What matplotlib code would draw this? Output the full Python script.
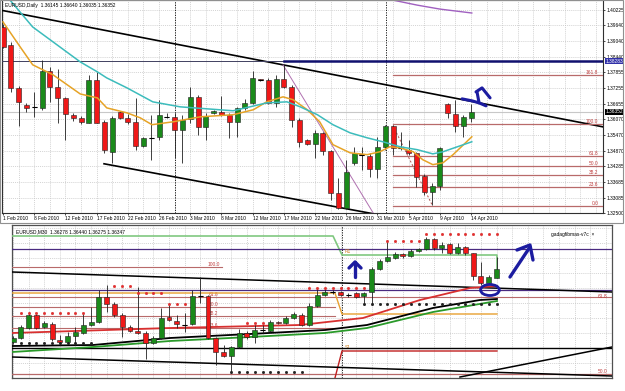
import matplotlib
matplotlib.use("Agg")
import matplotlib.pyplot as plt
import matplotlib.transforms as mtransforms
from matplotlib.patches import Ellipse, Rectangle
import numpy as np

plt.rcParams['font.family'] = ['Liberation Sans', 'DejaVu Sans']

# ---- daily chart (top) ----
top_open = [1.3958, 1.3890, 1.3726, 1.3662, 1.3655, 1.3650, 1.3791, 1.3730, 1.3688, 1.3624,
            1.3612, 1.3593, 1.3757, 1.3597, 1.3483, 1.3635, 1.3612, 1.3597, 1.3506, 1.3537,
            1.3540, 1.3617, 1.3616, 1.3567, 1.3608, 1.3692, 1.3578, 1.3631, 1.3635, 1.3624,
            1.3597, 1.3650, 1.3669, 1.3758, 1.3757, 1.3669, 1.3760, 1.3730, 1.3605, 1.3529,
            1.3513, 1.3555, 1.3487, 1.3327, 1.3270, 1.3441, 1.3473, 1.3468, 1.3418, 1.3502,
            1.3582, 1.3499, 1.3491, 1.3479, 1.3392, 1.3331, 1.3354, 1.3665, 1.3627, 1.3582,
            1.3612]
top_high = [1.3969, 1.3901, 1.3734, 1.3669, 1.3711, 1.3833, 1.3806, 1.3798, 1.3692, 1.3631,
            1.3620, 1.3776, 1.3787, 1.3605, 1.3620, 1.3639, 1.3627, 1.3688, 1.3540, 1.3624,
            1.3681, 1.3631, 1.3631, 1.3624, 1.3730, 1.3700, 1.3631, 1.3643, 1.3696, 1.3631,
            1.3654, 1.3684, 1.3791, 1.3760, 1.3764, 1.3776, 1.3814, 1.3738, 1.3612, 1.3532,
            1.3567, 1.3559, 1.3491, 1.3384, 1.3453, 1.3502, 1.3502, 1.3479, 1.3540, 1.3586,
            1.3586, 1.3559, 1.3529, 1.3483, 1.3399, 1.3365, 1.3502, 1.3669, 1.3681, 1.3624,
            1.3664]
top_low = [1.3878, 1.3711, 1.3582, 1.3635, 1.3616, 1.3643, 1.3673, 1.3593, 1.3529, 1.3601,
           1.3589, 1.3593, 1.3593, 1.3479, 1.3441, 1.3608, 1.3589, 1.3491, 1.3502, 1.3453,
           1.3529, 1.3612, 1.3460, 1.3441, 1.3593, 1.3548, 1.3529, 1.3627, 1.3620, 1.3536,
           1.3540, 1.3643, 1.3665, 1.3753, 1.3665, 1.3654, 1.3726, 1.3578, 1.3502, 1.3510,
           1.3460, 1.3472, 1.3301, 1.3266, 1.3266, 1.3434, 1.3415, 1.3388, 1.3384, 1.3491,
           1.3472, 1.3491, 1.3472, 1.3350, 1.3320, 1.3282, 1.3339, 1.3612, 1.3559, 1.3540,
           1.3597]
top_close = [1.3882, 1.3726, 1.3673, 1.3650, 1.3654, 1.3791, 1.3730, 1.3688, 1.3627, 1.3612,
             1.3597, 1.3757, 1.3593, 1.3491, 1.3612, 1.3612, 1.3597, 1.3506, 1.3536, 1.3536,
             1.3624, 1.3616, 1.3567, 1.3605, 1.3692, 1.3578, 1.3620, 1.3639, 1.3624, 1.3597,
             1.3650, 1.3669, 1.3764, 1.3757, 1.3669, 1.3760, 1.3730, 1.3605, 1.3521, 1.3513,
             1.3555, 1.3487, 1.3327, 1.3270, 1.3407, 1.3479, 1.3472, 1.3418, 1.3502, 1.3582,
             1.3498, 1.3498, 1.3479, 1.3388, 1.3331, 1.3354, 1.3498, 1.3631, 1.3582, 1.3616,
             1.3635]

date_labels = ['1 Feb 2010', '8 Feb 2010', '12 Feb 2010', '17 Feb 2010', '22 Feb 2010',
               '26 Feb 2010', '3 Mar 2010', '8 Mar 2010', '12 Mar 2010', '17 Mar 2010',
               '22 Mar 2010', '26 Mar 2010', '31 Mar 2010', '5 Apr 2010', '9 Apr 2010',
               '14 Apr 2010']
price_ticks = [1.40225, 1.39640, 1.39040, 1.38440, 1.37855, 1.37255, 1.36655, 1.36070,
               1.35470, 1.34870, 1.34285, 1.33685, 1.33085, 1.32500]

orange_x = [0, 2.2, 3.8, 6.4, 9.9, 12.1, 13.3, 15.9, 17.6, 19.1, 21.8, 25.3, 29.5, 32.1, 33.8,
            35.9, 37.2, 39.0, 40.6, 42.3, 44.5, 46.7, 48.3, 49.6, 50.9, 52.6, 53.8, 55.1, 56.4,
            57.7, 60.1]
orange_y = [1.3977, 1.3882, 1.3814, 1.3776, 1.3703, 1.3688, 1.3650, 1.3631, 1.3612, 1.3586,
            1.3597, 1.3616, 1.3624, 1.3643, 1.3673, 1.3692, 1.3681, 1.3643, 1.3597, 1.3510,
            1.3479, 1.3472, 1.3483, 1.3502, 1.3498, 1.3483, 1.3453, 1.3434, 1.3441, 1.3472,
            1.3540]
cyan_x = [0.9, 3.8, 9.9, 12.1, 13.3, 15.9, 19.2, 22.7, 29.5, 33.8, 36.4, 38.1, 40.3, 42.3,
          44.5, 46.7, 48.7, 50.9, 53.1, 55.1, 56.4, 60.1]
cyan_y = [1.4060, 1.3958, 1.3825, 1.3787, 1.3764, 1.3726, 1.3673, 1.3654, 1.3639, 1.3669,
          1.3673, 1.3654, 1.3624, 1.3586, 1.3555, 1.3536, 1.3521, 1.3502, 1.3491, 1.3475,
          1.3483, 1.3521]
purple_x = [50.0, 53.1, 56.0, 60.1]
purple_y = [1.4060, 1.4041, 1.4026, 1.4011]

chan_up_x, chan_up_y = [-0.4, 76.9], [1.40225, 1.35779]
chan_lo_x, chan_lo_y = [12.95, 47.44], [1.34373, 1.32473]
diag_x, diag_y = [35.9, 47.44], [1.38135, 1.32511]
fib_diag_x, fib_diag_y = [50.0, 55.0], [1.35817, 1.32815]
resist_price = 1.38283
last_price = 1.36352
fib_prices = [1.3776, 1.3589, 1.3468, 1.3430, 1.3396, 1.3350, 1.3278]
fib_names = ['161.8', '100.0', '61.8', '50.0', '38.2', '23.6', '0.0']
top_vlines = [22.05, 49.1]
scribble_top = [([58.85, 60.13, 61.03, 61.92], [1.36843, 1.36767, 1.36691, 1.36577]),
                ([61.03, 60.77], [1.36691, 1.37109]),
                ([60.64, 61.41, 62.44], [1.37109, 1.37261, 1.36881])]

# ---- M30 chart (bottom) ----
bot_open = [1.35763, 1.35795, 1.35875, 1.35979, 1.35883, 1.35907, 1.35779, 1.35763, 1.35811, 1.35835,
            1.35899, 1.35923, 1.36123, 1.36067, 1.35979, 1.35883, 1.35851, 1.35835, 1.35755, 1.35795,
            1.35963, 1.35931, 1.35900, 1.35907, 1.36132, 1.36131, 1.35795, 1.35683, 1.35651, 1.35723,
            1.35835, 1.35803, 1.35860, 1.35851, 1.35923, 1.35915, 1.35955, 1.35979, 1.35899, 1.36051,
            1.36139, 1.36164, 1.36163, 1.36140, 1.36155, 1.36131, 1.36163, 1.36347, 1.36411, 1.36435,
            1.36467, 1.36451, 1.36491, 1.36507, 1.36587, 1.36515, 1.36547, 1.36475, 1.36523, 1.36475,
            1.36291, 1.36235, 1.36278]
bot_high = [1.35811, 1.35899, 1.36003, 1.35987, 1.35931, 1.35923, 1.35819, 1.35843, 1.35883, 1.35995,
            1.36043, 1.36179, 1.36219, 1.36083, 1.35995, 1.35899, 1.36203, 1.35851, 1.35811, 1.36035,
            1.36075, 1.35979, 1.35995, 1.36179, 1.36283, 1.36139, 1.35803, 1.35739, 1.35731, 1.35867,
            1.35851, 1.35899, 1.35899, 1.35939, 1.35931, 1.35971, 1.36003, 1.35995, 1.36075, 1.36195,
            1.36187, 1.36179, 1.36171, 1.36155, 1.36163, 1.36163, 1.36363, 1.36427, 1.36579, 1.36483,
            1.36475, 1.36507, 1.36515, 1.36603, 1.36595, 1.36563, 1.36555, 1.36555, 1.36531, 1.36475,
            1.36403, 1.36299, 1.36440]
bot_low = [1.35747, 1.35787, 1.35867, 1.35867, 1.35875, 1.35771, 1.35739, 1.35747, 1.35739, 1.35827,
           1.35891, 1.35915, 1.36003, 1.35963, 1.35803, 1.35843, 1.35827, 1.35627, 1.35747, 1.35787,
           1.35931, 1.35875, 1.35843, 1.35899, 1.36075, 1.35787, 1.35579, 1.35643, 1.35515, 1.35715,
           1.35787, 1.35755, 1.35835, 1.35843, 1.35907, 1.35907, 1.35947, 1.35891, 1.35891, 1.36043,
           1.36131, 1.36147, 1.36131, 1.36123, 1.36115, 1.36059, 1.36059, 1.36339, 1.36403, 1.36427,
           1.36435, 1.36443, 1.36483, 1.36499, 1.36499, 1.36475, 1.36467, 1.36467, 1.36459, 1.36259,
           1.36219, 1.36227, 1.36275]
bot_close = [1.35795, 1.35883, 1.35979, 1.35875, 1.35915, 1.35787, 1.35763, 1.35811, 1.35843, 1.35899,
             1.35923, 1.36123, 1.36067, 1.35979, 1.35883, 1.35851, 1.35835, 1.35755, 1.35795, 1.35955,
             1.35939, 1.35907, 1.35899, 1.36131, 1.36131, 1.35795, 1.35683, 1.35651, 1.35723, 1.35835,
             1.35803, 1.35859, 1.35859, 1.35923, 1.35915, 1.35955, 1.35987, 1.35899, 1.36051, 1.36139,
             1.36163, 1.36163, 1.36139, 1.36139, 1.36123, 1.36155, 1.36347, 1.36411, 1.36443, 1.36467,
             1.36451, 1.36491, 1.36507, 1.36587, 1.36515, 1.36539, 1.36475, 1.36523, 1.36475, 1.36291,
             1.36235, 1.36283, 1.36347]

b_red_x = [-0.13, 20.13, 36.79, 44.87, 52.18, 58.59, 62.05]
b_red_y = [1.35835, 1.35875, 1.35899, 1.35955, 1.36099, 1.36195, 1.36211]
b_black_x = [-0.13, 10.26, 20.13, 30.38, 40.0, 45.38, 53.85, 59.87, 62.05]
b_black_y = [1.35731, 1.35739, 1.35795, 1.35827, 1.35859, 1.35899, 1.36035, 1.36099, 1.36107]
b_green_x = [-0.13, 10.26, 20.13, 30.38, 40.0, 45.38, 53.85, 62.05]
b_green_y = [1.35683, 1.35723, 1.35771, 1.35803, 1.35835, 1.35875, 1.36003, 1.36091]
b_step_x = [-0.13, 41.03, 42.18, 62.05, 62.05]
b_step_y = [1.36611, 1.36611, 1.36459, 1.36459, 1.36283]
b_orange_x = [-0.13, 41.28, 42.18, 62.05]
b_orange_y = [1.36155, 1.36155, 1.35987, 1.35987]
b_s1_x = [41.28, 42.18, 62.05]
b_s1_y = [1.35475, 1.35691, 1.35691]
b_trend1_x, b_trend1_y = [-0.13, 76.8], [1.36323, 1.36163]
b_trend2_x, b_trend2_y = [-0.13, 76.8], [1.35643, 1.35491]
b_trend3_x, b_trend3_y = [57.31, 76.8], [1.35483, 1.35723]
b_purple = [1.36507, 1.36179]
b_black_h = 1.35715
b_low_h = 1.35507
b_fib_prices = [1.36363, 1.36123, 1.36043, 1.35971, 1.35875]
b_fib_names = ['100.0', '61.8', '50.0', '38.2', '23.6']
b_vline = 42.18
# dotted rows: (first bar, last bar, price, colour)
b_dots = [(1, 9, 1.35995, 'r'), (13, 15, 1.36211, 'r'), (16, 19, 1.36155, 'r'),
          (20, 22, 1.36067, 'r'), (30, 32, 1.35915, 'r'), (38, 45, 1.36195, 'r'),
          (48, 52, 1.36571, 'r'), (53, 62, 1.36627, 'r'),
          (1, 10, 1.35755, 'k'), (45, 62, 1.36067, 'k'), (28, 37, 1.35523, 'k')]
scribble_bot = [([43.85, 43.85], [1.36283, 1.36403]),
                ([43.08, 43.85, 44.62], [1.36355, 1.36403, 1.36355]),
                ([63.72, 66.28], [1.36283, 1.36523]),
                ([64.62, 66.28, 66.67], [1.36499, 1.36539, 1.36419])]

UP, DOWN, WICK = '#1a8a1a', '#f01818', '#202020'
FIB = '#b86a6a'
PEN = '#1c1ca0'
GRID = dict(color='#c4c4c4', linestyle=(0, (1.5, 1.5)), linewidth=0.5)
SMALL = 3.5


def candles(ax, o, h, l, c, doji_tol):
    o, h, l, c = map(np.asarray, (o, h, l, c))
    x = np.arange(len(o))
    ax.vlines(x, l, h, color=WICK, lw=0.6, zorder=4)
    body = np.abs(c - o)
    cols = np.where(c >= o, UP, DOWN)
    ax.bar(x, body, width=0.64, bottom=np.minimum(o, c), color=cols,
           edgecolor=WICK, linewidth=0.4, zorder=5)
    flat = body < doji_tol
    ax.hlines(c[flat], x[flat] - 0.32, x[flat] + 0.32, color='black', lw=0.8, zorder=5)


W, H = 625, 391
fig = plt.figure(figsize=(W / 100, H / 100), dpi=100)

# ---------- top panel ----------
ax1 = fig.add_axes([2 / W, 1 - 213 / H, 601 / W, 213 / H])
ax1.set_xlim(-0.13, 76.92)
ax1.set_ylim(1.3250, 1.40605)
ax1.set_yticks(price_ticks)
ax1.set_yticklabels(['%.5f' % p for p in price_ticks])
ax1.yaxis.tick_right()
ax1.set_xticks(np.arange(0, 61, 4))
ax1.set_xticklabels(date_labels, ha='left')
ax1.set_xticks(np.arange(0, 77, 2), minor=True)
ax1.tick_params(axis='both', labelsize=SMALL, length=1.5, width=0.5, pad=1)
ax1.tick_params(axis='x', which='minor', length=0)
for lab in ax1.get_xticklabels():
    lab.set_x(lab.get_position()[0])
ax1.grid(True, which='both', **GRID)
for s in ax1.spines.values():
    s.set_linewidth(0.8)
    s.set_color('#303030')

ax1.axhline(last_price, color='#c8c8c8', lw=0.8, zorder=1)
for v in top_vlines:
    ax1.axvline(v, color='black', lw=0.6, linestyle=(0, (1.5, 1.5)), zorder=2)
ax1.plot(chan_up_x, chan_up_y, color='black', lw=1.2, zorder=3)
ax1.plot(chan_lo_x, chan_lo_y, color='black', lw=1.2, zorder=3)
ax1.plot(diag_x, diag_y, color='#b070b0', lw=0.7, zorder=3)
ax1.plot(fib_diag_x, fib_diag_y, color='#b05050', lw=0.7, linestyle=(0, (2, 2)), zorder=3)
ax1.axhline(resist_price, color='#404060', lw=0.7, zorder=3)
ax1.plot([36, 76.92], [resist_price, resist_price], color='#10106e', lw=1.8, zorder=3)
for p, name in zip(fib_prices, fib_names):
    ax1.plot([50, 76.92], [p, p], color=FIB, lw=0.9, zorder=3)
    ax1.text(76.3, p, name, color='#c04040', fontsize=SMALL, ha='right', va='bottom')
ax1.plot(orange_x, orange_y, color='#e6a326', lw=1.1, zorder=6)
ax1.plot(cyan_x, cyan_y, color='#3cbcbc', lw=1.1, zorder=6)
ax1.plot(purple_x, purple_y, color='#a060c0', lw=1.0, zorder=6)
candles(ax1, top_open, top_high, top_low, top_close, 0.00025)
for xs, ys in scribble_top:
    ax1.plot(xs, ys, color=PEN, lw=2.2, solid_capstyle='round', solid_joinstyle='round', zorder=8)

ytr = mtransforms.blended_transform_factory(ax1.transAxes, ax1.transData)
ax1.text(1.004, resist_price, '1.38283', transform=ytr, fontsize=SMALL, color='white',
         va='center', ha='left', bbox=dict(facecolor='#3030a8', edgecolor='none', pad=0.4))
ax1.text(1.004, last_price, '1.36352', transform=ytr, fontsize=SMALL, color='white',
         va='center', ha='left', bbox=dict(facecolor='black', edgecolor='none', pad=0.4))
fig.text(5 / W, 1 - 5 / H, 'EURUSD,Daily  1.36145 1.36640 1.36035 1.36352',
         fontsize=SMALL, va='center', ha='left')
fig.add_artist(Rectangle((0, 1 - 223 / H), 623 / W, 223 / H, transform=fig.transFigure,
                         fill=False, edgecolor='#909090', lw=0.8))

# ---------- bottom panel ----------
ax2 = fig.add_axes([12 / W, 13 / H, 600 / W, 153 / H])
ax2.set_xlim(-0.13, 76.8)
ax2.set_ylim(1.35475, 1.36699)
ax2.set_xticks(np.arange(0, 77, 2))
ax2.set_yticks(np.arange(1.35475, 1.36699, 0.0012))
ax2.tick_params(length=0, labelbottom=False, labelleft=False)
ax2.grid(True, **GRID)
for s in ax2.spines.values():
    s.set_linewidth(0.9)
    s.set_color('#505050')

ax2.axvline(b_vline, color='black', lw=0.6, linestyle=(0, (1.5, 1.5)), zorder=2)
ax2.plot(b_step_x, b_step_y, color='#80c880', lw=1.2, zorder=3)
for p in b_purple:
    ax2.axhline(p, color='#4a2a80', lw=0.9, zorder=3)
ax2.plot([-0.13, 26.8], [b_fib_prices[0]] * 2, color=FIB, lw=0.8, zorder=3)
ax2.axhline(b_fib_prices[1], color=FIB, lw=0.8, zorder=3)
for p in b_fib_prices[2:]:
    ax2.plot([-0.13, 41.3], [p, p], color=FIB, lw=0.8, zorder=3)
for p, name in zip(b_fib_prices, b_fib_names):
    ax2.text(25.7, p, name, color='#c04040', fontsize=SMALL, ha='center', va='bottom')
ax2.text(76.2, b_fib_prices[1], '61.8', color='#c04040', fontsize=SMALL, ha='right', va='center')
ax2.axhline(b_low_h, color=FIB, lw=0.9, zorder=3)
ax2.text(76.2, b_low_h, '50.0', color='#c04040', fontsize=SMALL, ha='right', va='bottom')
ax2.plot(b_orange_x, b_orange_y, color='#e8a030', lw=1.0, zorder=3)
ax2.plot(b_s1_x, b_s1_y, color='#c02020', lw=1.0, zorder=3)
ax2.text(42.5, 1.36470, 'R1', color='#d08020', fontsize=SMALL, ha='left', va='bottom')
ax2.text(42.5, 1.35700, 'S1', color='#d08020', fontsize=SMALL, ha='left', va='bottom')
ax2.plot(b_trend1_x, b_trend1_y, color='black', lw=1.1, zorder=3)
ax2.plot(b_trend2_x, b_trend2_y, color='black', lw=1.1, zorder=3)
ax2.plot(b_trend3_x, b_trend3_y, color='black', lw=1.1, zorder=3)
ax2.axhline(b_black_h, color='black', lw=1.0, zorder=3)
ax2.plot(b_red_x, b_red_y, color='#d83030', lw=1.3, zorder=4)
ax2.plot(b_black_x, b_black_y, color='black', lw=1.3, zorder=4)
ax2.plot(b_green_x, b_green_y, color='#2a9a2a', lw=1.3, zorder=4)
for a, b, p, c in b_dots:
    xs = np.arange(a, b + 1)
    ax2.plot(xs, [p] * len(xs), linestyle='none', marker='s', markersize=1.0,
             color='#e03030' if c == 'r' else '#202020', zorder=6)
candles(ax2, bot_open, bot_high, bot_low, bot_close, 0.00005)
for xs, ys in scribble_bot:
    ax2.plot(xs, ys, color=PEN, lw=2.4, solid_capstyle='round', solid_joinstyle='round', zorder=8)
ax2.add_patch(Ellipse((61.15, 1.36179), 2.4, 0.00088, fill=False, edgecolor=PEN, lw=2.0, zorder=8))
ax2.text(0.006, 0.955, 'EURUSD,M30  1.36278 1.36440 1.36275 1.36347', transform=ax2.transAxes,
         fontsize=SMALL, ha='left', va='center')
ax2.text(0.97, 0.94, 'gadagfibmas-v7c  \u00d7', transform=ax2.transAxes,
         fontsize=SMALL, ha='right', va='center')

fig.savefig('out.png', dpi=100)
